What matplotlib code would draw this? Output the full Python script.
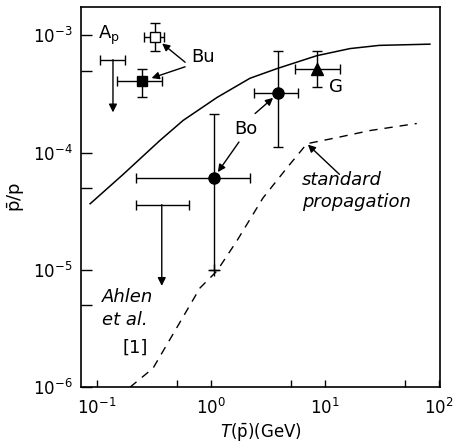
import numpy as np
import matplotlib
matplotlib.use("Agg")
import matplotlib.pyplot as plt
from matplotlib.ticker import FixedLocator, NullFormatter

# ---- data ----
# solid curve
solid_x = [0.087, 0.169, 0.357, 0.57, 1.13, 2.2, 3.8, 8.5, 16.6, 30.0, 83.5]
solid_y = [3.66e-5, 6.5e-5, 1.27e-4, 1.88e-4, 2.95e-4, 4.3e-4, 5.2e-4, 6.7e-4, 7.7e-4, 8.2e-4, 8.4e-4]
# dashed "standard propagation" curve
std_x = [0.195, 0.31, 0.50, 0.80, 1.13, 1.69, 2.86, 4.64, 6.95, 12.7, 24.8, 64.0]
std_y = [1.0e-6, 1.45e-6, 3.2e-6, 7.0e-6, 9.8e-6, 1.77e-5, 4.1e-5, 7.4e-5, 1.19e-4, 1.34e-4, 1.54e-4, 1.77e-4]

# Bu open square
bu_open_x, bu_open_y = 0.32, 9.6e-4
bu_open_xerr = [0.32 - 0.26, 0.39 - 0.32]
bu_open_yerr = [9.6e-4 - 7.4e-4, 1.26e-3 - 9.6e-4]
# Bu filled square
bu_fill_x, bu_fill_y = 0.25, 4.06e-4
bu_fill_xerr = [0.25 - 0.15, 0.37 - 0.25]
bu_fill_yerr = [4.06e-4 - 3.0e-4, 5.2e-4 - 4.06e-4]
# Bo circles
bo_x = [1.06, 3.9]
bo_y = [6.1e-5, 3.2e-4]
bo_xlo = [0.22, 2.4]
bo_xhi = [2.2, 5.8]
bo_ylo = [1.0e-5, 1.12e-4]
bo_yhi = [2.15e-4, 7.3e-4]
# G triangle
g_x, g_y = 8.5, 5.2e-4
g_xlo, g_xhi = 5.5, 13.5
g_ylo, g_yhi = 3.6e-4, 7.3e-4
# upper limits: (x_lo, x_hi, x_arrow, y_limit, y_arrow_end)
ap_lim = (0.107, 0.176, 0.138, 6.2e-4, 2.2e-4)
ahlen_lim = (0.22, 0.64, 0.37, 3.6e-5, 7.3e-6)

fig = plt.figure(figsize=(4.53, 4.45), dpi=100)
ax = fig.add_axes([0.179, 0.130, 0.792, 0.854])
ax.set_xscale("log")
ax.set_yscale("log")
ax.set_xlim(10**-1.14, 10**2.009)
ax.set_ylim(1e-6, 10**-2.76)

ax.plot(solid_x, solid_y, color="black", lw=1.1)
ax.plot(std_x, std_y, color="black", lw=1.0, dashes=(6, 5))

ekw = dict(ecolor="black", elinewidth=1.0, capsize=3.5, capthick=1.0)
ax.errorbar([bu_open_x], [bu_open_y],
            xerr=[[bu_open_xerr[0]], [bu_open_xerr[1]]],
            yerr=[[bu_open_yerr[0]], [bu_open_yerr[1]]],
            fmt="s", mfc="white", mec="black", ms=7, mew=1.0, **ekw)
ax.errorbar([bu_fill_x], [bu_fill_y],
            xerr=[[bu_fill_xerr[0]], [bu_fill_xerr[1]]],
            yerr=[[bu_fill_yerr[0]], [bu_fill_yerr[1]]],
            fmt="s", color="black", ms=7, **ekw)
bo_x = np.array(bo_x); bo_y = np.array(bo_y)
ax.errorbar(bo_x, bo_y,
            xerr=[bo_x - np.array(bo_xlo), np.array(bo_xhi) - bo_x],
            yerr=[bo_y - np.array(bo_ylo), np.array(bo_yhi) - bo_y],
            fmt="o", color="black", ms=8, **ekw)
ax.errorbar([g_x], [g_y], xerr=[[g_x - g_xlo], [g_xhi - g_x]],
            yerr=[[g_y - g_ylo], [g_yhi - g_y]],
            fmt="^", color="black", ms=8, **ekw)
# cross at bottom of first Bo error bar
ax.plot([bo_x[0]], [bo_ylo[0]], marker="+", color="black", ms=8, mew=1.0)

for (xl, xh, xa, yl, ye) in (ap_lim, ahlen_lim):
    ax.errorbar([np.sqrt(xl * xh)], [yl],
                xerr=[[np.sqrt(xl * xh) - xl], [xh - np.sqrt(xl * xh)]],
                fmt="none", **ekw)
    ax.annotate("", xy=(xa, ye), xytext=(xa, yl),
                arrowprops=dict(arrowstyle="-|>", color="black", lw=1.0,
                                mutation_scale=12, shrinkA=0, shrinkB=0))

fs = 13
ax.text(0.078, 0.926, r"A$_{\rm p}$", transform=ax.transAxes, fontsize=fs,
        ha="center", va="center")
ax.text(0.34, 0.868, "Bu", transform=ax.transAxes, fontsize=fs,
        ha="center", va="center")
ax.text(0.458, 0.68, "Bo", transform=ax.transAxes, fontsize=fs,
        ha="center", va="center")
ax.text(0.71, 0.789, "G", transform=ax.transAxes, fontsize=fs,
        ha="center", va="center")
ax.text(0.616, 0.545, "standard", transform=ax.transAxes, fontsize=fs,
        style="italic", ha="left", va="center")
ax.text(0.616, 0.487, "propagation", transform=ax.transAxes, fontsize=fs,
        style="italic", ha="left", va="center")
ax.text(0.058, 0.237, "Ahlen", transform=ax.transAxes, fontsize=fs,
        style="italic", ha="left", va="center")
ax.text(0.058, 0.176, "et al.", transform=ax.transAxes, fontsize=fs,
        style="italic", ha="left", va="center")
ax.text(0.15, 0.103, "[1]", transform=ax.transAxes, fontsize=fs,
        ha="center", va="center")

akw = dict(arrowstyle="-|>", color="black", lw=1.0, mutation_scale=11)
ax.annotate("", xy=(bu_open_x, bu_open_y), xytext=(0.29, 0.855),
            textcoords="axes fraction",
            arrowprops=dict(shrinkA=0, shrinkB=7, **akw))
ax.annotate("", xy=(bu_fill_x, bu_fill_y), xytext=(0.29, 0.843),
            textcoords="axes fraction",
            arrowprops=dict(shrinkA=0, shrinkB=7, **akw))
ax.annotate("", xy=(bo_x[1], bo_y[1]), xytext=(0.485, 0.72),
            textcoords="axes fraction",
            arrowprops=dict(shrinkA=0, shrinkB=5, **akw))
ax.annotate("", xy=(bo_x[0], bo_y[0]), xytext=(0.44, 0.645),
            textcoords="axes fraction",
            arrowprops=dict(shrinkA=0, shrinkB=5, **akw))
ax.annotate("", xy=(6.95, 1.19e-4), xytext=(0.72, 0.56),
            textcoords="axes fraction",
            arrowprops=dict(shrinkA=0, shrinkB=1, **akw))

# ticks
ax.xaxis.set_major_locator(FixedLocator([0.1, 1, 10, 100]))
ax.xaxis.set_minor_locator(FixedLocator([0.5, 5, 50]))
ax.yaxis.set_major_locator(FixedLocator([1e-6, 1e-5, 1e-4, 1e-3]))
ax.yaxis.set_minor_locator(FixedLocator([5e-6, 5e-5, 5e-4]))
ax.xaxis.set_minor_formatter(NullFormatter())
ax.yaxis.set_minor_formatter(NullFormatter())
ax.tick_params(axis="both", which="both", direction="in", top=False, right=False,
               labelsize=12, width=1.0)
ax.tick_params(axis="y", which="both", length=8, pad=6)
ax.tick_params(axis="x", which="both", length=5, pad=8)
for s in ax.spines.values():
    s.set_linewidth(1.2)

ax.set_xlabel(r"$T$($\bar{\rm p}$)(GeV)", fontsize=12, labelpad=2)
ax.set_ylabel(r"$\bar{\rm p}$/p", fontsize=13, labelpad=4)

fig.savefig("out.png", dpi=100)
